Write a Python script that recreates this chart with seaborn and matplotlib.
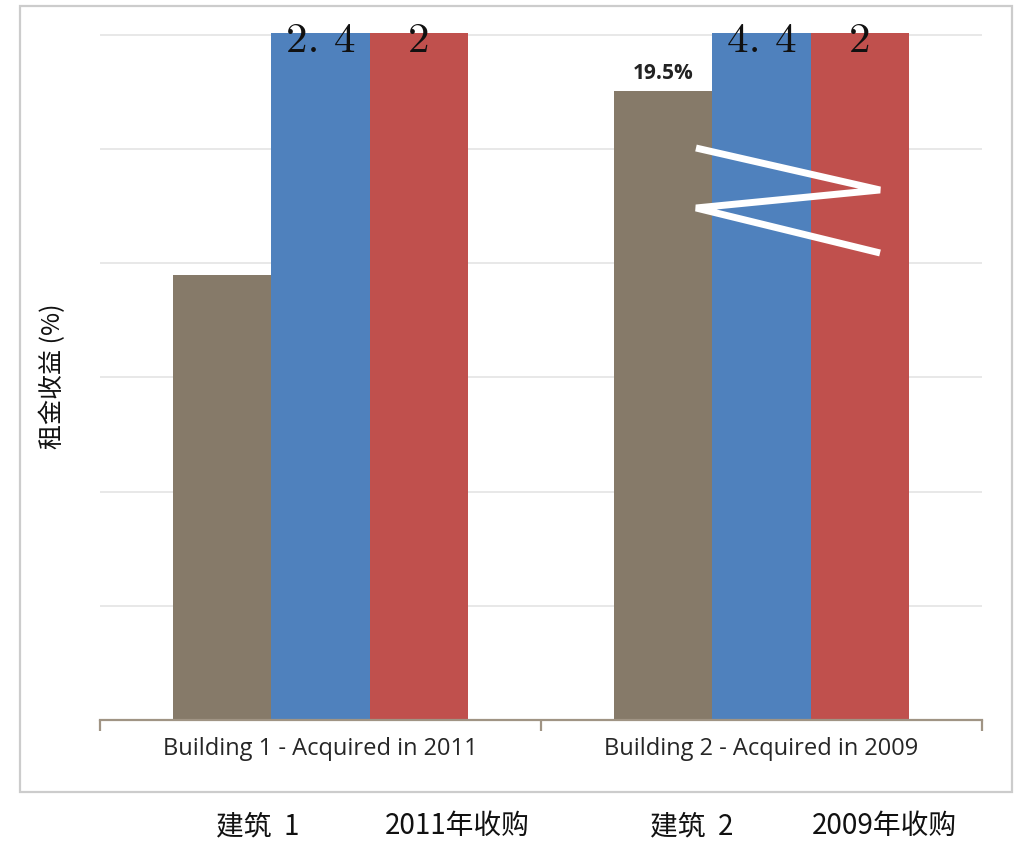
import matplotlib
matplotlib.use("Agg")
import matplotlib.pyplot as plt
from matplotlib.patches import Rectangle
from matplotlib.lines import Line2D
import numpy as np
import pandas as pd
import seaborn as sns

# ---- data -------------------------------------------------------------
buildings = ["Building 1 - Acquired in 2011", "Building 2 - Acquired in 2009"]
series = ["rent_yield", "multiple_a", "multiple_b"]
rent_yield_pct = [13.8, 19.5]          # rental yield, %
multiple_a = [2.4, 4.4]                # ratio (x100 => %), runs past the axis break
multiple_b = [2.0, 2.0]                # ratio (x100 => %), runs past the axis break
multiple_a_labels = ["2. 4", "4. 4"]
multiple_b_labels = ["2", "2"]
yield_labels = [None, "19.5%"]
cn_labels = ["建筑  1", "2011年收购", "建筑  2", "2009年收购"]
y_title = "租金收益 (%)"

colors = ["#867a69", "#4f81bd", "#c0504d"]

# ---- long-form table ---------------------------------------------------
df = pd.DataFrame({
    "building": buildings * 3,
    "series": np.repeat(series, 2),
    "value": rent_yield_pct
    + [v * 100 for v in multiple_a]
    + [v * 100 for v in multiple_b],
})

sns.set_theme(style="white")
plt.rcParams["font.family"] = ["Noto Sans CJK SC", "DejaVu Sans"]

W, H = 1016, 842
fig = plt.figure(figsize=(W / 100, H / 100), dpi=100)
ax = fig.add_axes([100 / W, 1 - 720 / H, 882 / W, 687 / H])

sns.barplot(data=df, x="building", y="value", hue="series", order=buildings,
            hue_order=series, palette=colors, width=0.667, saturation=1,
            dodge=True, legend=False, ax=ax, edgecolor="none", linewidth=0)

y_cap = 21.3
ax.set_ylim(0, y_cap)
ax.set_xlim(-0.5, 1.5)

# gridlines
ax.set_yticks(np.arange(7) * 3.54)
ax.yaxis.grid(True, color="#e6e6e6", linewidth=1.3)
ax.set_axisbelow(True)
ax.tick_params(axis="y", left=False, labelleft=False)

for s in ["top", "right", "left"]:
    ax.spines[s].set_visible(False)
ax.spines["bottom"].set_color("#a09484")
ax.spines["bottom"].set_linewidth(1.6)

# category ticks sit on the group boundaries
ax.set_xticks([-0.5, 0.5, 1.5], minor=True)
ax.tick_params(axis="x", which="minor", bottom=True, length=8, width=1.6,
               color="#a09484", direction="out")
ax.tick_params(axis="x", which="major", bottom=False, length=0, pad=12)
ax.set_xticklabels(buildings, family=["Open Sans", "DejaVu Sans"], fontsize=17,
                   color="#262626")
ax.set_xlabel("")
ax.set_ylabel(y_title, fontsize=18, color="#111111")
ax.yaxis.set_label_coords(-0.0530, 0.5)
ax.yaxis.label.set_va("center")

# value labels
bars = ax.patches
n = len(buildings)
for i in range(n):
    a = bars[n + i]
    b = bars[2 * n + i]
    for bar, lab in ((a, multiple_a_labels[i]), (b, multiple_b_labels[i])):
        ax.annotate(lab, (bar.get_x() + bar.get_width() / 2, y_cap),
                    xytext=(0, -14), textcoords="offset points",
                    ha="center", va="baseline", fontsize=31,
                    family="cmr10", color="#111111", annotation_clip=False)
    if yield_labels[i]:
        r = bars[i]
        ax.annotate(yield_labels[i], (r.get_x() + r.get_width() / 2, r.get_height()),
                    xytext=(0, 8.5), textcoords="offset points",
                    ha="center", va="baseline", fontsize=15, fontweight="bold",
                    family=["Open Sans", "DejaVu Sans"], color="#222222")

# axis-break marker across the second group
zx = [0.6757, 0.8844, 0.6757, 0.8844]
zy = [0.8326, 0.7715, 0.7453, 0.6798]
ax.add_line(Line2D(zx, zy, transform=ax.transAxes, color="white", lw=5,
                   solid_joinstyle="bevel", solid_capstyle="butt", zorder=5))

# chart frame
fig.patches.append(Rectangle((20 / W, 1 - 792 / H), 992 / W, 786 / H,
                             transform=fig.transFigure, fill=False,
                             edgecolor="#cccccc", linewidth=1.6))

# Chinese category captions under the frame
cn_x = [216, 385, 650, 812]
for x, t in zip(cn_x, cn_labels):
    fig.text(x / W, 1 - 826 / H, t, fontsize=20, ha="left", va="center",
             family=["Noto Sans CJK SC", "DejaVu Sans"], color="#111111")

fig.savefig("out.png", dpi=100, facecolor="white")
